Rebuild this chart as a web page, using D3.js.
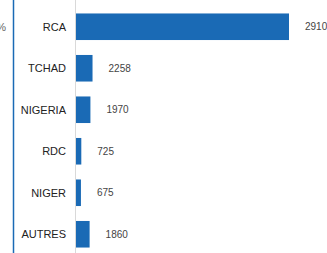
<!DOCTYPE html>
<html lang="fr">
<head>
<meta charset="UTF-8">
<script src="https://d3js.org/d3.v7.min.js"></script>
<style>
    body { margin: 0; background: #fff; }
    svg { display: block; font-family: "Liberation Sans", Arial, sans-serif; }
    .cat { font-size: 11px; fill: #222; }
    .val { font-size: 10px; fill: #444; }
</style>
</head>
<body>
<svg id="chart" width="327" height="253"></svg>
<script>
    // pays d'origine
    let pays = ["RCA", "TCHAD", "NIGERIA", "RDC", "NIGER", "AUTRES"];
    let effectifs = [29108, 2258, 1970, 725, 675, 1860];

    let svg = d3.select("#chart");
    let x0 = 76;

    let x = d3.scaleLinear()
        .domain([0, d3.max(effectifs)])
        .range([x0, 289]);

    let y = d3.scaleBand()
        .domain(pays)
        .range([6, 255])
        .paddingInner(0.36)
        .paddingOuter(0.18);

    // left border of the panel
    svg.append("line")
        .attr("x1", 13.5).attr("x2", 13.5)
        .attr("y1", 0).attr("y2", 253)
        .attr("stroke", "#1a6ab5").attr("stroke-width", 1.5);

    // bit of text from the previous panel
    svg.append("text")
        .attr("x", 6).attr("y", y("RCA") + y.bandwidth() / 2)
        .attr("dy", "0.35em").attr("text-anchor", "end")
        .attr("class", "cat").style("fill", "#666")
        .text("%");

    // axis line
    svg.append("line")
        .attr("x1", x0 - 0.5).attr("x2", x0 - 0.5)
        .attr("y1", 0).attr("y2", 253)
        .attr("stroke", "#d9d9d9").attr("stroke-width", 1);

    let rows = svg.selectAll("g.row")
        .data(pays)
        .enter()
        .append("g")
        .attr("class", "row");

    rows.append("rect")
        .attr("x", x0)
        .attr("y", d => y(d))
        .attr("width", (d, i) => x(effectifs[i]) - x0)
        .attr("height", y.bandwidth())
        .attr("fill", "#1a6ab5");

    rows.append("text")
        .attr("class", "cat")
        .attr("x", 66)
        .attr("y", d => y(d) + y.bandwidth() / 2)
        .attr("dy", "0.35em")
        .attr("text-anchor", "end")
        .text(d => d);

    rows.append("text")
        .attr("class", "val")
        .attr("x", (d, i) => x(effectifs[i]) + 16)
        .attr("y", d => y(d) + y.bandwidth() / 2)
        .attr("dy", "0.35em")
        .text((d, i) => effectifs[i]);
</script>
</body>
</html>
